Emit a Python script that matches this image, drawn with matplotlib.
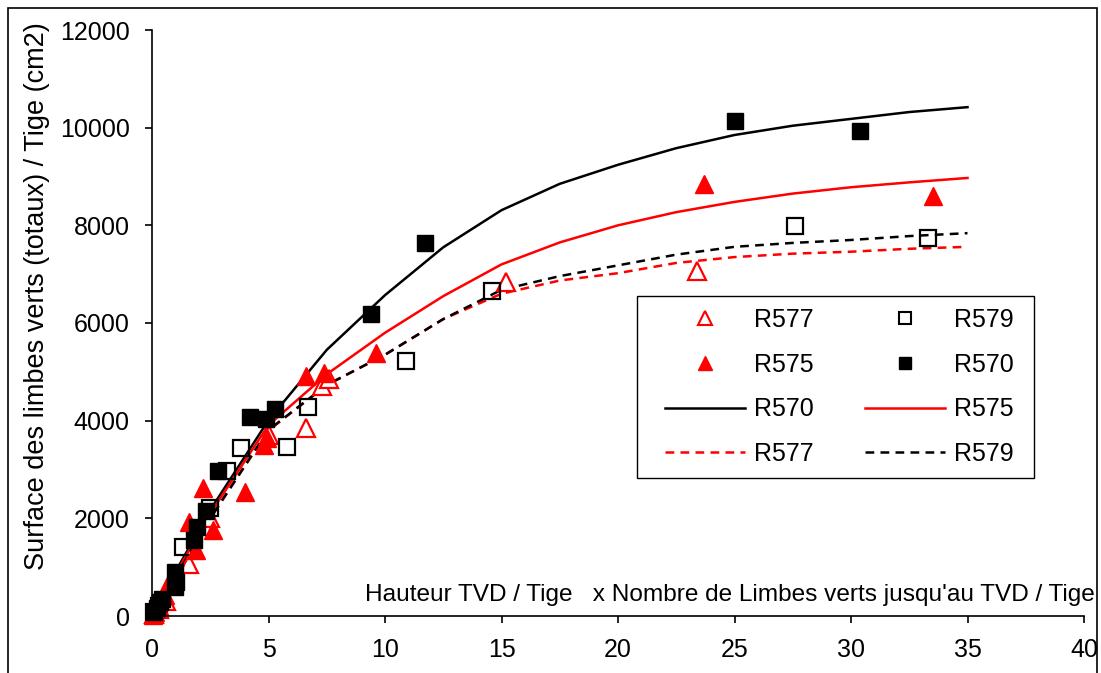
import matplotlib
matplotlib.use("Agg")
import matplotlib.pyplot as plt
from matplotlib.lines import Line2D
from matplotlib.patches import Rectangle

# observed points (x = hauteur TVD x nb limbes, y = surface limbes cm2)
r570_x = [0.1, 0.2, 0.35, 0.45, 1.0, 1.05, 1.0, 1.8, 1.95, 2.3, 2.85, 4.2, 4.9, 5.3, 9.4, 11.7, 25.0, 30.4]
r570_y = [80, 170, 280, 350, 600, 700, 900, 1560, 1820, 2150, 2960, 4080, 4040, 4240, 6180, 7640, 10140, 9930]

r575_x = [0.05, 0.15, 0.3, 0.55, 0.7, 1.6, 1.9, 2.2, 2.6, 4.0, 4.8, 4.95, 6.6, 7.4, 9.6, 23.7, 33.5]
r575_y = [30, 80, 200, 420, 650, 1920, 1360, 2620, 1760, 2540, 3500, 3640, 4920, 4980, 5390, 8840, 8600]

r577_x = [0.1, 0.3, 0.6, 1.6, 2.5, 5.0, 6.6, 7.3, 7.6, 15.2, 23.4]
r577_y = [50, 150, 300, 1060, 2000, 3700, 3850, 4700, 4850, 6830, 7060]

r579_x = [0.1, 0.3, 1.35, 2.5, 3.2, 3.8, 5.8, 6.7, 10.9, 14.6, 27.6, 33.3]
r579_y = [80, 200, 1420, 2220, 2960, 3440, 3460, 4280, 5220, 6660, 7980, 7740]

# fitted curves
fit_x = [0, 1, 2.5, 5, 7.5, 10, 12.5, 15, 17.5, 20, 22.5, 25, 27.5, 30, 32.5, 35]
fit570 = [0, 900, 2170, 4010, 5450, 6570, 7550, 8310, 8850, 9240, 9580, 9850, 10040, 10180, 10320, 10420]
fit575 = [0, 850, 2100, 3910, 4950, 5800, 6550, 7200, 7650, 8000, 8270, 8480, 8650, 8780, 8880, 8970]
fit577 = [0, 800, 2000, 3800, 4730, 5350, 6080, 6600, 6870, 7020, 7230, 7350, 7420, 7460, 7520, 7560]
fit579 = [0, 800, 2000, 3810, 4730, 5350, 6080, 6680, 6960, 7180, 7400, 7560, 7640, 7700, 7780, 7840]

plt.rcParams.update({'font.family': 'Liberation Sans', 'font.size': 18})

W, H = 1101, 673
fig = plt.figure(figsize=(W / 100, H / 100), dpi=100)
ax = fig.add_axes([152 / W, 1 - 616 / H, (1084 - 152) / W, (616 - 30) / H])

red = '#FF0000'
dash = (0, (3.5, 2.5))

ax.plot(fit_x, fit570, color='black', lw=1.8)
ax.plot(fit_x, fit575, color=red, lw=1.8)
ax.plot(fit_x, fit577, color=red, lw=1.8, linestyle=dash)
ax.plot(fit_x, fit579, color='black', lw=1.8, linestyle=dash)

ax.plot(r577_x, r577_y, linestyle='none', marker='^', markersize=13,
        markerfacecolor='white', markeredgecolor=red, markeredgewidth=1.6)
ax.plot(r579_x, r579_y, linestyle='none', marker='s', markersize=11,
        markerfacecolor='none', markeredgecolor='black', markeredgewidth=1.6)
ax.plot(r575_x, r575_y, linestyle='none', marker='^', markersize=13,
        color=red)
ax.plot(r570_x, r570_y, linestyle='none', marker='s', markersize=11,
        color='black')

ax.set_xlim(0, 40)
ax.set_ylim(0, 12000)
ax.set_xticks(range(0, 41, 5))
ax.set_yticks(range(0, 12001, 2000))
for s in ['top', 'right']:
    ax.spines[s].set_visible(False)
for s in ['left', 'bottom']:
    ax.spines[s].set_linewidth(1.2)
ax.tick_params(direction='out', length=5, width=1.2, labelsize=18, pad=11)
for l in ax.lines:
    l.set_clip_on(False)

fig.text(1095 / W, 1 - 601 / H,
         "Hauteur TVD / Tige   x Nombre de Limbes verts jusqu'au TVD / Tige",
         ha='right', va='baseline', fontsize=17.6)
fig.text(37 / W, 1 - 296 / H,
         "Surface des limbes verts (totaux) / Tige (cm2)",
         rotation=90, ha='center', va='center', fontsize=19.5)

handles = [
    Line2D([], [], linestyle='none', marker='^', markersize=10,
           markerfacecolor='white', markeredgecolor=red, markeredgewidth=1.5),
    Line2D([], [], linestyle='none', marker='^', markersize=10, color=red),
    Line2D([], [], color='black', lw=1.8),
    Line2D([], [], color=red, lw=1.8, linestyle=dash),
    Line2D([], [], linestyle='none', marker='s', markersize=8,
           markerfacecolor='white', markeredgecolor='black', markeredgewidth=1.5),
    Line2D([], [], linestyle='none', marker='s', markersize=8, color='black'),
    Line2D([], [], color=red, lw=1.8),
    Line2D([], [], color='black', lw=1.8, linestyle=dash),
]
labels = ['R577', 'R575', 'R570', 'R577', 'R579', 'R570', 'R575', 'R579']
ax.legend(handles, labels, ncol=2, loc='upper left',
          bbox_to_anchor=(665 / W, 1 - 308 / H),
          bbox_transform=fig.transFigure, frameon=False,
          handlelength=3.2, handletextpad=0.35,
          columnspacing=2.05, labelspacing=0.83, borderpad=0,
          borderaxespad=0, fontsize=18)
# legend frame
fig.add_artist(Rectangle((637 / W, 1 - 478 / H), (1034 - 637) / W, (478 - 296) / H,
                         transform=fig.transFigure, fill=False,
                         edgecolor='black', lw=1.0))

# outer chart border
fig.add_artist(Rectangle((8 / W, -0.02), (1097 - 8) / W, 1 - 8 / H + 0.02,
                         transform=fig.transFigure, fill=False,
                         edgecolor='black', lw=1.2, clip_on=False))

fig.savefig('out.png', dpi=100)
